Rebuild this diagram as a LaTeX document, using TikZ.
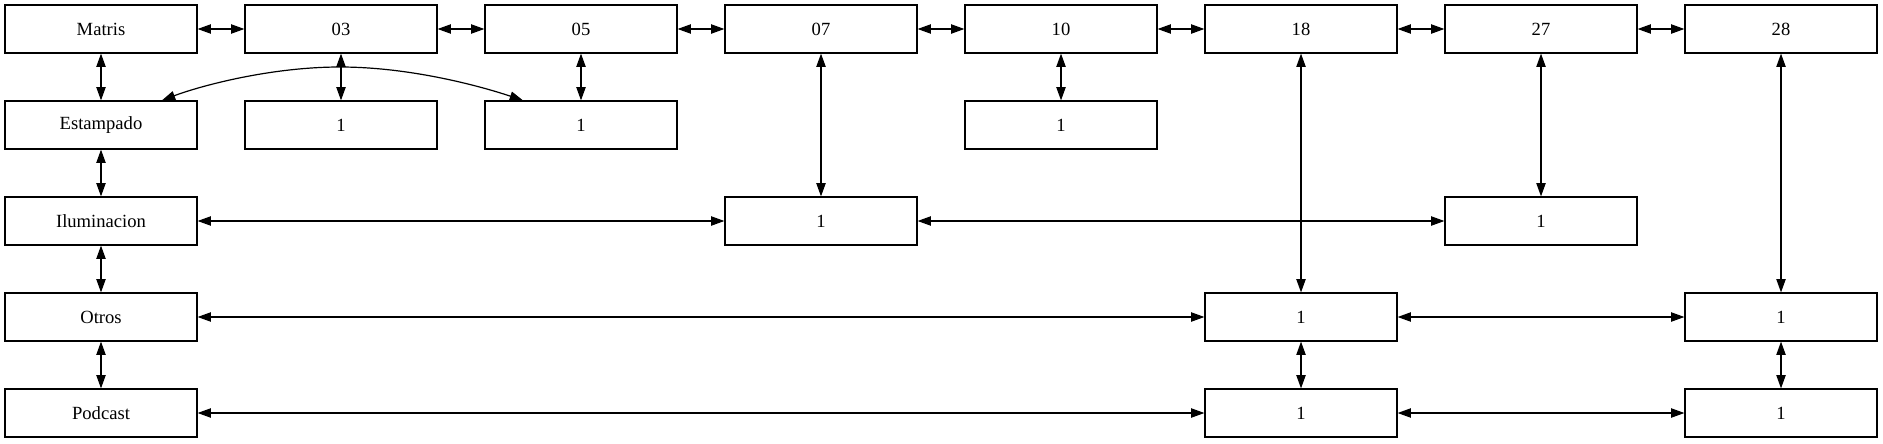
\documentclass[tikz,border=0pt]{standalone}
\usepackage{fontspec}
\setmainfont{Liberation Serif}
\usetikzlibrary{arrows.meta}
\begin{document}
\begin{tikzpicture}[x=0.75bp,y=-0.75bp,
  box/.style={draw, rectangle, minimum width=144bp, minimum height=36bp, inner sep=0pt,
    font=\fontsize{14}{16}\selectfont, line width=0.9bp},
  link/.style={{Triangle[length=10bp,width=7bp]}-{Triangle[length=10bp,width=7bp]}, line width=0.9bp}]
\useasboundingbox (0,0) rectangle (1883,443);
% row 1
\node[box] (matris) at (101,29) {Matris};
\node[box] (n03) at (341,29) {03};
\node[box] (n05) at (581,29) {05};
\node[box] (n07) at (821,29) {07};
\node[box] (n10) at (1061,29) {10};
\node[box] (n18) at (1301,29) {18};
\node[box] (n27) at (1541,29) {27};
\node[box] (n28) at (1781,29) {28};
% row 2
\node[box] (est) at (101,125) {Estampado};
\node[box] (a03) at (341,125) {1};
\node[box] (a05) at (581,125) {1};
\node[box] (a10) at (1061,125) {1};
% row 3
\node[box] (ilu) at (101,221) {Iluminacion};
\node[box] (b07) at (821,221) {1};
\node[box] (b27) at (1541,221) {1};
% row 4
\node[box] (otr) at (101,317) {Otros};
\node[box] (c18) at (1301,317) {1};
\node[box] (c28) at (1781,317) {1};
% row 5
\node[box] (pod) at (101,413) {Podcast};
\node[box] (d18) at (1301,413) {1};
\node[box] (d28) at (1781,413) {1};
% row 1 chain
\draw[link] (matris) -- (n03);
\draw[link] (n03) -- (n05);
\draw[link] (n05) -- (n07);
\draw[link] (n07) -- (n10);
\draw[link] (n10) -- (n18);
\draw[link] (n18) -- (n27);
\draw[link] (n27) -- (n28);
% left column
\draw[link] (matris) -- (est);
\draw[link] (est) -- (ilu);
\draw[link] (ilu) -- (otr);
\draw[link] (otr) -- (pod);
% verticals
\draw[link] (n03) -- (a03);
\draw[link] (n05) -- (a05);
\draw[link] (n10) -- (a10);
\draw[link] (n07) -- (b07);
\draw[link] (n27) -- (b27);
\draw[link] (n18) -- (c18);
\draw[link] (n28) -- (c28);
\draw[link] (c18) -- (d18);
\draw[link] (c28) -- (d28);
% horizontals
\draw[link] (ilu) -- (b07);
\draw[link] (b07) -- (b27);
\draw[link] (otr) -- (c18);
\draw[link] (c18) -- (c28);
\draw[link] (pod) -- (d18);
\draw[link] (d18) -- (d28);
% curved
\coordinate (peak) at (340,67);
\draw[link] (est.22) .. controls (200,86) and (270,67) .. (peak) .. controls (410,67) and (480,86) .. (a05.157.5);
\end{tikzpicture}
\end{document}
